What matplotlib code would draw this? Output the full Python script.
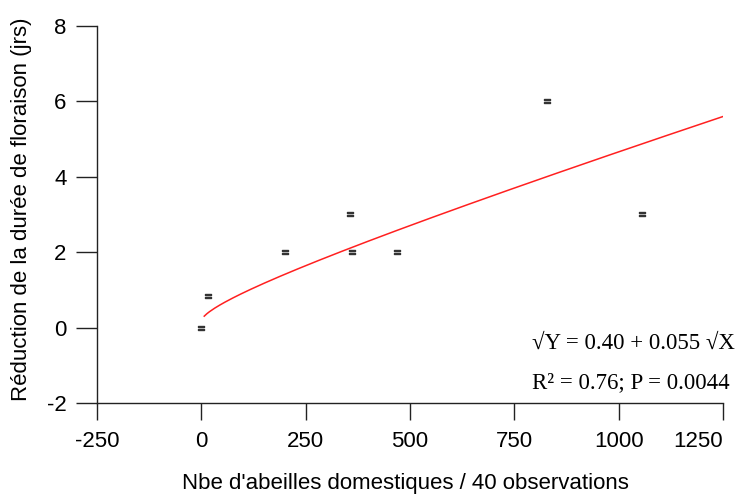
import numpy as np
import matplotlib.pyplot as plt

plt.rcParams['font.family'] = ['Liberation Sans', 'DejaVu Sans']
plt.rcParams['axes.unicode_minus'] = False

# observations: honeybee count vs. reduction of flowering duration
bees = [0, 17, 200, 357, 360, 469, 828, 1057]
reduction = [0.0, 0.85, 2.0, 3.0, 2.0, 2.0, 6.0, 3.0]

# sqrt-sqrt regression: sqrt(Y) = a + b*sqrt(X)
a_fit = 0.404
b_fit = 0.0555
x_fit = np.linspace(7, 1250, 200)
y_fit = (a_fit + b_fit * np.sqrt(x_fit)) ** 2

xticks = [-250, 0, 250, 500, 750, 1000, 1250]
yticks = [-2, 0, 2, 4, 6, 8]

fig = plt.figure(figsize=(7.42, 4.94), dpi=100)
ax = fig.add_axes([0.1307, 0.1842, 0.8437, 0.7632])

ax.plot(x_fit, y_fit, color='#ff2020', lw=1.1)
ax.plot(bees, reduction, ls='none', marker='$=$', ms=5, color='#333333')

ax.set_xlim(-250, 1250)
ax.set_ylim(-2, 8)
ax.set_xticks(xticks)
ax.set_yticks(yticks)
ax.spines['top'].set_visible(False)
ax.spines['right'].set_visible(False)
for s in ['left', 'bottom']:
    ax.spines[s].set_linewidth(1.0)
    ax.spines[s].set_color('#222222')
ax.tick_params(axis='x', direction='out', length=12, width=1.0, pad=8, labelsize=16, color='#222222')
ax.tick_params(axis='y', direction='out', length=15, width=1.0, pad=7, labelsize=16, color='#222222')
# keep the last x label inside the figure
ax.get_xticklabels()[-1].set_ha('right')
ax.get_xticklabels()[-1].set_x(1250)

ax.set_xlabel("Nbe d'abeilles domestiques / 40 observations", fontsize=16, labelpad=16)
ax.xaxis.set_label_coords(0.492, -0.186)
ax.set_ylabel('Réduction de la durée de floraison (jrs)', fontsize=16, labelpad=10)
ax.yaxis.set_label_coords(-0.103, 0.515)

fig.text(0.717, 0.306, '√Y = 0.40 + 0.055 √X', family='Liberation Serif', fontsize=16.5, va='center', ha='left')
fig.text(0.717, 0.225, 'R² = 0.76; P = 0.0044', family='Liberation Serif', fontsize=16.5, va='center', ha='left')

fig.savefig('out.png', dpi=100)
